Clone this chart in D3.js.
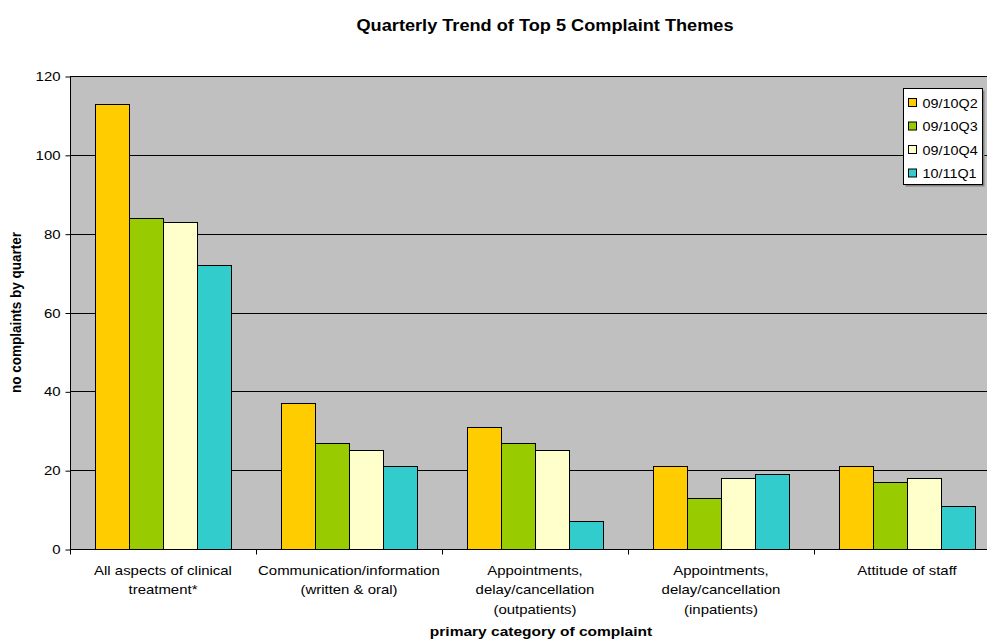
<!DOCTYPE html>
<html>
<head>
<meta charset="utf-8">
<script src="https://cdn.jsdelivr.net/npm/d3@7"></script>
<style>
  body { margin: 0; background: #fff; }
  text { font-family: "Liberation Sans", Arial, sans-serif; }
</style>
</head>
<body>
<div id="chart"></div>
<script>
// Chart size and plot margins
const width = 987;
const height = 641;
const margin = { top: 76, right: -13, bottom: 92, left: 70 };
const stretchX = 1.15; // the source text is a bit wider than plain Arial

// Data
const categories = [
    ["All aspects of clinical", "treatment*"],
    ["Communication/information", "(written & oral)"],
    ["Appointments,", "delay/cancellation", "(outpatients)"],
    ["Appointments,", "delay/cancellation", "(inpatients)"],
    ["Attitude of staff"]
];
const seriesNames = ["09/10Q2", "09/10Q3", "09/10Q4", "10/11Q1"];
const q2 = [113, 37, 31, 21, 21];
const q3 = [84, 27, 27, 13, 17];
const q4 = [83, 25, 25, 18, 18];
const q1 = [72, 21, 7, 19, 11];
const seriesValues = [q2, q3, q4, q1];
const colors = ["#ffcc00", "#99cc00", "#ffffcc", "#33cccc"];
const yTicks = [0, 20, 40, 60, 80, 100, 120];

// move x/y of a text into a transform so it can be widened
function stretch(sel) {
    sel.each(function() {
        const t = d3.select(this);
        const x = +t.attr("x") || 0;
        const y = +t.attr("y") || 0;
        t.attr("x", 0).attr("y", 0)
            .attr("transform", `translate(${x},${y}) scale(${stretchX},1)`);
    });
}

const svg = d3.select("#chart")
    .append("svg")
    .attr("width", width)
    .attr("height", height);

const x0 = d3.scaleBand()
    .domain(d3.range(categories.length))
    .range([margin.left, width - margin.right])
    .paddingInner(0)
    .paddingOuter(0);

const x1 = d3.scaleBand()
    .domain(d3.range(seriesNames.length))
    .range([0, x0.bandwidth()])
    .paddingInner(0)
    .paddingOuter(0.735);

const y = d3.scaleLinear()
    .domain([0, 120])
    .range([height - margin.bottom, margin.top]);

// Plot background
svg.append("rect")
    .attr("x", margin.left)
    .attr("y", margin.top)
    .attr("width", width - margin.right - margin.left)
    .attr("height", height - margin.bottom - margin.top)
    .attr("fill", "#c0c0c0");

// Grid lines
svg.append("g")
    .selectAll("line")
    .data(yTicks.slice(1))
    .enter()
    .append("line")
    .attr("x1", margin.left)
    .attr("x2", width - margin.right)
    .attr("y1", d => Math.round(y(d)) + 0.5)
    .attr("y2", d => Math.round(y(d)) + 0.5)
    .attr("stroke", "#000")
    .attr("stroke-width", 1);

// Bars
const groups = svg.append("g")
    .selectAll("g")
    .data(categories.map((c, i) => i))
    .enter()
    .append("g")
    .attr("transform", i => `translate(${x0(i)},0)`);

groups.selectAll("rect")
    .data(i => seriesValues.map((s, k) => ({ k: k, v: s[i] })))
    .enter()
    .append("rect")
    .attr("x", d => Math.round(x1(d.k)) + 0.5)
    .attr("y", d => Math.round(y(d.v)) + 0.5)
    .attr("width", Math.round(x1.bandwidth()))
    .attr("height", d => Math.round(y(0)) - Math.round(y(d.v)))
    .attr("fill", d => colors[d.k])
    .attr("stroke", "#000")
    .attr("stroke-width", 1);

// Y axis
const yAxis = svg.append("g")
    .attr("transform", `translate(${margin.left + 0.5},0.5)`)
    .call(d3.axisLeft(y).tickValues(yTicks).tickSize(5).tickPadding(5));
yAxis.select(".domain").attr("d", `M0,${y(120)}V${y(0)}`).attr("stroke", "#000");
yAxis.selectAll("text")
    .attr("font-size", 13)
    .attr("fill", "#000")
    .style("font-family", "'Liberation Sans', Arial, sans-serif")
    .call(stretch);

// X axis
const xAxis = svg.append("g")
    .attr("transform", `translate(0,${Math.round(y(0)) + 0.5})`);
xAxis.append("line")
    .attr("x1", margin.left)
    .attr("x2", width)
    .attr("stroke", "#000");
xAxis.selectAll(".tick")
    .data(d3.range(categories.length))
    .enter()
    .append("line")
    .attr("x1", i => Math.round(x0(i)) + 0.5)
    .attr("x2", i => Math.round(x0(i)) + 0.5)
    .attr("y1", 0)
    .attr("y2", 5)
    .attr("stroke", "#000");

// Category labels
const catLabels = svg.append("g")
    .selectAll("text")
    .data(categories)
    .enter()
    .append("text")
    .attr("x", (d, i) => x0(i) + x0.bandwidth() / 2)
    .attr("y", 575)
    .attr("text-anchor", "middle")
    .attr("font-size", 13)
    .attr("fill", "#000")
    .call(stretch);
catLabels.selectAll("tspan")
    .data(d => d)
    .enter()
    .append("tspan")
    .attr("x", 0)
    .attr("dy", (d, i) => i === 0 ? 0 : 19.5)
    .text(d => d);

// Title
svg.append("text")
    .attr("x", 545)
    .attr("y", 31)
    .attr("text-anchor", "middle")
    .attr("font-size", 15.8)
    .attr("font-weight", "bold")
    .text("Quarterly Trend of Top 5 Complaint Themes")
    .call(stretch);

// Axis titles
svg.append("text")
    .attr("x", 541)
    .attr("y", 636)
    .attr("text-anchor", "middle")
    .attr("font-size", 13.5)
    .attr("font-weight", "bold")
    .text("primary category of complaint")
    .call(stretch);

svg.append("text")
    .attr("transform", `translate(21,${(y(0) + y(120)) / 2}) scale(${stretchX},1) rotate(-90)`)
    .attr("text-anchor", "middle")
    .attr("font-size", 13.5)
    .attr("font-weight", "bold")
    .text("no complaints by quarter");

// Legend
const legend = svg.append("g").attr("transform", "translate(903.5,88.5)");
legend.append("rect")
    .attr("x", 2).attr("y", 2)
    .attr("width", 79).attr("height", 96)
    .attr("fill", "#808080");
legend.append("rect")
    .attr("width", 79).attr("height", 96)
    .attr("fill", "#fff")
    .attr("stroke", "#000");
const items = legend.selectAll(".item")
    .data(seriesNames)
    .enter()
    .append("g")
    .attr("transform", (d, i) => `translate(5,${14 + i * 23.5})`);
items.append("rect")
    .attr("x", 0).attr("y", -4)
    .attr("width", 8).attr("height", 8)
    .attr("fill", (d, i) => colors[i])
    .attr("stroke", "#000");
items.append("text")
    .attr("x", 14)
    .attr("y", 5)
    .attr("font-size", 12.5)
    .text(d => d)
    .call(stretch);
</script>
</body>
</html>
